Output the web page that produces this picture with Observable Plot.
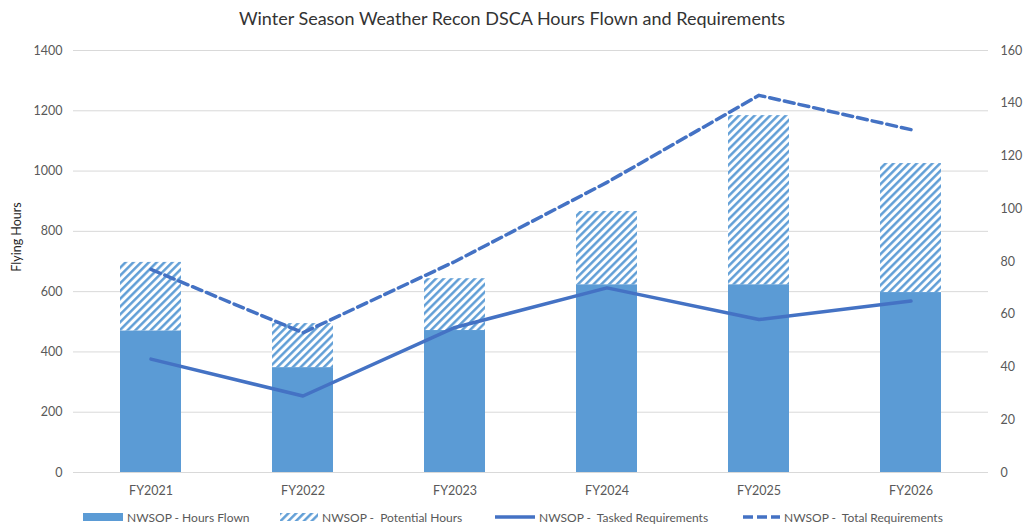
<!DOCTYPE html>
<html><head><meta charset="utf-8">
<script src="https://cdn.jsdelivr.net/npm/d3@7"></script>
<script src="https://cdn.jsdelivr.net/npm/@observablehq/plot@0.6"></script>
<style>
body{margin:0;background:#fff;font-family:Lato, "Open Sans", sans-serif;}
#wrap{width:1024px;height:525px;position:relative;overflow:hidden;}
#title{position:absolute;left:0;top:0;width:1024px;height:36px;line-height:36px;text-align:center;font-size:18px;color:#333;}
#chart{position:absolute;left:0;top:36px;}
.lg{position:absolute;top:508px;height:18px;display:flex;align-items:center;font-size:12px;color:#595959;white-space:pre;}
.lg svg{margin-right:4px;}
</style></head><body>
<div id="wrap">
<div id="title">Winter Season Weather Recon DSCA Hours Flown and Requirements</div>
<div id="chart"></div>
<div id="legend"></div>
</div>
<script>
const categories = ["FY2021","FY2022","FY2023","FY2024","FY2025","FY2026"];
const hoursFlown = [470, 348, 471, 623, 623, 597];
const potentialHours = [227, 146, 172, 243, 561, 428];
const taskedRequirements = [43, 29, 55, 70, 58, 65];
const totalRequirements = [77, 53, 80, 110, 143, 130];
const leftTicks = [0,200,400,600,800,1000,1200,1400];
const rightTicks = [0,20,40,60,80,100,120,140,160];
const seriesNames = ["NWSOP - Hours Flown","NWSOP -  Potential Hours","NWSOP -  Tasked Requirements","NWSOP -  Total Requirements"];

const ratio = 1400/160;
const barColor = "#5B9BD5", lineColor = "#4472C4";

const flownRows = categories.map((c,i)=>({cat:c, y1:0, y2:hoursFlown[i]}));
const potRows = categories.map((c,i)=>({cat:c, y1:hoursFlown[i], y2:hoursFlown[i]+potentialHours[i]}));
const taskedRows = categories.map((c,i)=>({cat:c, v:taskedRequirements[i]*ratio}));
const totalRows = categories.map((c,i)=>({cat:c, v:totalRequirements[i]*ratio}));

const chart = Plot.plot({
  width:1024, height:470,
  marginTop:14, marginBottom:34, marginLeft:73, marginRight:36,
  style:{fontFamily:"Lato, 'Open Sans', sans-serif", fontSize:"12.5px", color:"#595959", background:"#fff"},
  x:{domain:categories, paddingInner:0.6, paddingOuter:0.3, label:null},
  y:{domain:[0,1400], label:null},
  marks:[
    Plot.gridY(leftTicks, {stroke:"#d9d9d9", strokeOpacity:1, strokeWidth:1}),
    Plot.barY(flownRows, {x:"cat", y1:"y1", y2:"y2", fill:barColor}),
    Plot.barY(potRows, {x:"cat", y1:"y1", y2:"y2", fill:"url(#hatch)"}),
    Plot.line(taskedRows, {x:"cat", y:"v", stroke:lineColor, strokeWidth:3.5}),
    Plot.line(totalRows, {x:"cat", y:"v", stroke:lineColor, strokeWidth:3.5, strokeDasharray:"10,5"}),
    Plot.axisY(leftTicks, {anchor:"left", tickSize:0, tickPadding:11, label:null, tickFormat:d=>String(d), fill:"#595959"}),
    Plot.axisY(rightTicks.map(t=>t*ratio), {anchor:"right", tickSize:0, tickPadding:12, label:null, tickFormat:d=>String(Math.round(d/ratio)), fill:"#595959"}),
    Plot.axisX({tickSize:0, tickPadding:14, label:null, fill:"#595959"})
  ]
});

const s = d3.select(chart);
const defs = s.insert("defs", ":first-child");
const pat = defs.append("pattern").attr("id","hatch").attr("patternUnits","userSpaceOnUse")
  .attr("width",5.5).attr("height",10).attr("patternTransform","rotate(45)");
pat.append("rect").attr("width",5.5).attr("height",10).attr("fill","#fff");
pat.append("line").attr("x1",1.3).attr("y1",0).attr("x2",1.3).attr("y2",10).attr("stroke",barColor).attr("stroke-width",2.4);
s.append("text").attr("transform","translate(18,201) rotate(-90)").attr("text-anchor","middle")
  .attr("dominant-baseline","middle").attr("fill","#262626").attr("font-size",12.5).text("Flying Hours");
document.getElementById("chart").appendChild(chart);

// legend
const legend = document.getElementById("legend");
const items = [
  {left:83, sw:`<svg width="40" height="10"><rect x="0" y="1" width="40" height="8" fill="${barColor}"/></svg>`},
  {left:280, sw:`<svg width="38" height="10"><defs><pattern id="hatch2" patternUnits="userSpaceOnUse" width="5.5" height="10" patternTransform="rotate(45)"><rect width="5.5" height="10" fill="#fff"/><line x1="1.3" y1="0" x2="1.3" y2="10" stroke="${barColor}" stroke-width="2.4"/></pattern></defs><rect x="0" y="1" width="38" height="8" fill="url(#hatch2)"/></svg>`},
  {left:495, sw:`<svg width="40" height="10"><line x1="0" y1="5" x2="40" y2="5" stroke="${lineColor}" stroke-width="3.5"/></svg>`},
  {left:743, sw:`<svg width="37" height="10"><line x1="0" y1="5" x2="37" y2="5" stroke="${lineColor}" stroke-width="3.5" stroke-dasharray="10,4"/></svg>`}
];
items.forEach((it,i)=>{
  const d = document.createElement("div");
  d.className = "lg";
  d.style.left = it.left + "px";
  d.innerHTML = it.sw + "<span></span>";
  d.querySelector("span").textContent = seriesNames[i];
  legend.appendChild(d);
});
</script>
</body></html>
